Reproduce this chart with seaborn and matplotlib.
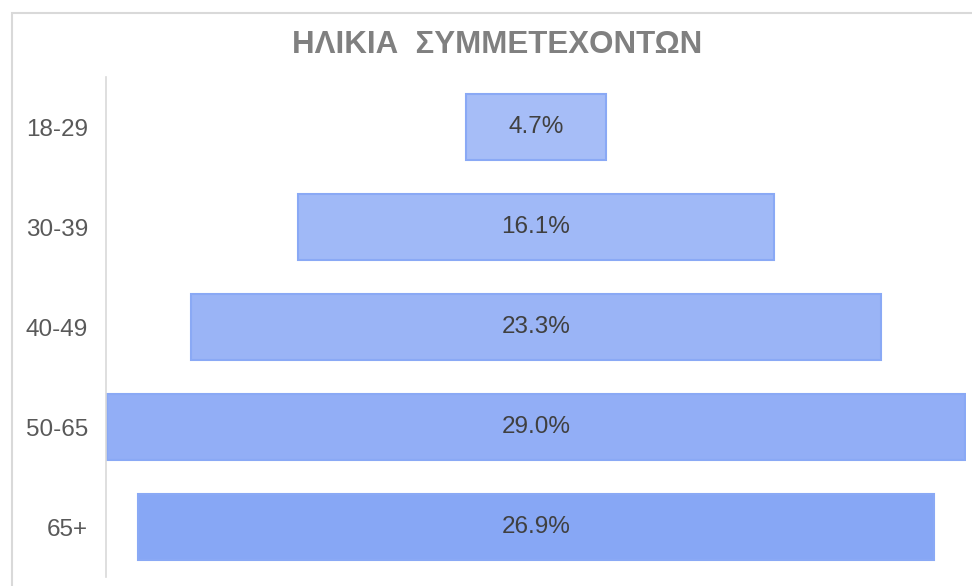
import numpy as np
import pandas as pd
import matplotlib.pyplot as plt
import matplotlib.patches as mpatches
import seaborn as sns

# Data
age_groups = ['18-29', '30-39', '40-49', '50-65', '65+']
shares = [4.7, 16.1, 23.3, 29.0, 26.9]
bar_colors = ['#a6bdf7', '#a0b9f7', '#9ab4f6', '#92aef6', '#87a7f5']
title = 'ΗΛΙΚΙΑ  ΣΥΜΜΕΤΕΧΟΝΤΩΝ'

df = pd.DataFrame({'age': age_groups, 'share': shares})

sns.set_style('white')
plt.rcParams['font.family'] = ['Liberation Sans', 'DejaVu Sans']

fig = plt.figure(figsize=(9.72, 5.86), dpi=100)
ax = fig.add_axes([106 / 972, 9 / 586, 860 / 972, 500 / 586])

sns.barplot(data=df, x='share', y='age', hue='age', palette=bar_colors,
            orient='h', width=0.66, legend=False, ax=ax, saturation=1,
            edgecolor='#8aa9f5', linewidth=1.5)

# centre each bar around zero -> funnel
for p in ax.patches:
    w = p.get_width()
    p.set_x(-w / 2)

for i, v in enumerate(shares):
    ax.text(0, i, f'{v:.1f}%', ha='center', va='center',
            fontsize=17.5, color='#404040')

ax.set_xlim(-14.53, 14.53)
ax.set_xticks([])
ax.set_xlabel('')
ax.set_ylabel('')
ax.tick_params(axis='y', length=0, pad=13, labelsize=17.5, labelcolor='#595959')

for s in ['top', 'right', 'bottom']:
    ax.spines[s].set_visible(False)
ax.spines['left'].set_color('#d9d9d9')
ax.spines['left'].set_linewidth(1.2)

fig.text(497 / 972, 1 - 45 / 586, title, ha='center', va='center',
         fontsize=22.5, fontweight='bold', color='#808080')

# outer chart border
fig.patches.append(mpatches.Rectangle((12 / 972, -0.05), 1.1, 1 - 12.5 / 586 + 0.05,
                                      transform=fig.transFigure, fill=False,
                                      edgecolor='#d9d9d9', linewidth=1.5))

fig.savefig('out.png', dpi=100)
